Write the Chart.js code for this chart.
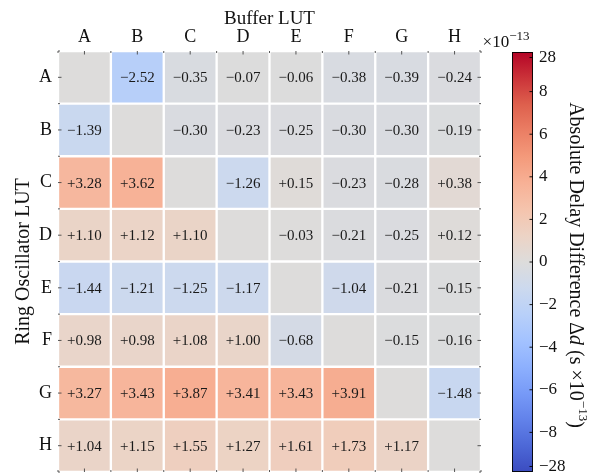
<!DOCTYPE html>
<html>
<head>
<meta charset="utf-8">
<script src="https://cdn.jsdelivr.net/npm/chart.js@4.4.1/dist/chart.umd.min.js"></script>
<style>
  html, body { margin: 0; padding: 0; background: #fff; }
  #wrap { position: relative; width: 597px; height: 475px; }
  #wrap canvas { position: absolute; left: 0; top: 0; }
</style>
</head>
<body>
<div id="wrap">
  <canvas id="heat" width="597" height="475"></canvas>
  <canvas id="cbar" width="597" height="475"></canvas>
</div>
<script>
// Buffer LUT (columns) and ring-oscillator LUT (rows)
const colLabels = ['A', 'B', 'C', 'D', 'E', 'F', 'G', 'H'];
const rowLabels = ['A', 'B', 'C', 'D', 'E', 'F', 'G', 'H'];

// Absolute delay difference per pair, in units of 1e-13 s (null = same LUT)
const rowA = [null, -2.52, -0.35, -0.07, -0.06, -0.38, -0.39, -0.24];
const rowB = [-1.39, null, -0.30, -0.23, -0.25, -0.30, -0.30, -0.19];
const rowC = [3.28, 3.62, null, -1.26, 0.15, -0.23, -0.28, 0.38];
const rowD = [1.10, 1.12, 1.10, null, -0.03, -0.21, -0.25, 0.12];
const rowE = [-1.44, -1.21, -1.25, -1.17, null, -1.04, -0.21, -0.15];
const rowF = [0.98, 0.98, 1.08, 1.00, -0.68, null, -0.15, -0.16];
const rowG = [3.27, 3.43, 3.87, 3.41, 3.43, 3.91, null, -1.48];
const rowH = [1.04, 1.15, 1.55, 1.27, 1.61, 1.73, 1.17, null];
const delays = [rowA, rowB, rowC, rowD, rowE, rowF, rowG, rowH];

// Colour bar ticks (outer ticks carry the extreme labels)
const cbarTickValues = [-9.6, -8, -6, -4, -2, 0, 2, 4, 6, 8, 9.6];
const cbarTickLabels = ['\u221228', '\u22128', '\u22126', '\u22124', '\u22122', '0', '2', '4', '6', '8', '28'];

// Symmetric colour limit
const colourLimit = 9.86;

// Diverging blue-grey-red colour map
const coolwarm = [
  [0.0, 59, 76, 192], [0.0625, 77, 104, 215], [0.125, 98, 130, 234], [0.1875, 119, 154, 247],
  [0.25, 141, 176, 254], [0.3125, 163, 194, 255], [0.375, 184, 208, 249], [0.4375, 204, 217, 238],
  [0.5, 221, 220, 219], [0.5625, 236, 211, 197], [0.625, 245, 196, 173], [0.6875, 247, 177, 150],
  [0.75, 244, 154, 123], [0.8125, 235, 126, 100], [0.875, 222, 96, 77], [0.9375, 203, 51, 57],
  [1.0, 180, 4, 38]
];

function mapColour(t) {
  t = Math.max(0, Math.min(1, t));
  for (let k = 1; k < coolwarm.length; k++) {
    const a = coolwarm[k - 1], b = coolwarm[k];
    if (t <= b[0]) {
      const f = (t - a[0]) / (b[0] - a[0]);
      const c = [1, 2, 3].map(n => Math.round(a[n] + f * (b[n] - a[n])));
      return `rgb(${c[0]},${c[1]},${c[2]})`;
    }
  }
  return 'rgb(180,4,38)';
}
function colourFor(v) {
  if (v === null) return mapColour(0.5);
  return mapColour(0.5 + v / (2 * colourLimit));
}
function fmt(v) {
  return (v >= 0 ? '+' : '\u2212') + Math.abs(v).toFixed(2);
}

const SERIF = '"Liberation Serif", "DejaVu Serif", serif';

// Draw a run of mixed-style text centred on (0,0) in the current transform
function drawRich(ctx, parts) {
  let total = 0;
  parts.forEach(p => { ctx.font = p.font; p.w = ctx.measureText(p.text).width; total += p.w; });
  let x = -total / 2;
  ctx.textBaseline = 'middle';
  ctx.textAlign = 'left';
  parts.forEach(p => { ctx.font = p.font; ctx.fillText(p.text, x, p.dy || 0); x += p.w; });
}

// Value labels in each cell
const cellLabels = {
  id: 'cellLabels',
  afterDatasetsDraw(chart) {
    const ctx = chart.ctx;
    ctx.save();
    ctx.font = '15px ' + SERIF;
    ctx.fillStyle = '#1a1a1a';
    ctx.textAlign = 'center';
    ctx.textBaseline = 'middle';
    chart.data.datasets.forEach((ds, i) => {
      chart.getDatasetMeta(i).data.forEach((el, j) => {
        const v = delays[i][j];
        if (v === null) return;
        ctx.fillText(fmt(v), el.x, (el.y + el.base) / 2 + 1);
      });
    });
    ctx.restore();
  }
};

// Inward major (centre) and minor (edge) ticks on all four sides, plus offset text
const frameTicks = {
  id: 'frameTicks',
  afterDatasetsDraw(chart) {
    const { ctx, chartArea: a, scales: { x, y } } = chart;
    ctx.save();
    ctx.strokeStyle = '#444';
    ctx.lineWidth = 0.9;
    ctx.beginPath();
    for (let i = 0; i < colLabels.length; i++) {
      const px = x.getPixelForValue(i);
      ctx.moveTo(px, a.top); ctx.lineTo(px, a.top + 3.5);
      ctx.moveTo(px, a.bottom); ctx.lineTo(px, a.bottom - 3.5);
    }
    for (let i = 0; i <= colLabels.length; i++) {
      const px = x.getPixelForValue(i - 0.5);
      ctx.moveTo(px, a.top); ctx.lineTo(px, a.top + 2);
      ctx.moveTo(px, a.bottom); ctx.lineTo(px, a.bottom - 2);
    }
    for (let i = 0; i < rowLabels.length; i++) {
      const py = y.getPixelForValue(i + 0.5);
      ctx.moveTo(a.left, py); ctx.lineTo(a.left + 3.5, py);
      ctx.moveTo(a.right, py); ctx.lineTo(a.right - 3.5, py);
    }
    for (let i = 0; i <= rowLabels.length; i++) {
      const py = y.getPixelForValue(i);
      ctx.moveTo(a.left, py); ctx.lineTo(a.left + 2, py);
      ctx.moveTo(a.right, py); ctx.lineTo(a.right - 2, py);
    }
    ctx.stroke();

    // scale factor note beside the grid
    ctx.fillStyle = '#111';
    ctx.translate(a.right + 25, a.top - 8);
    drawRich(ctx, [
      { text: '\u00d710', font: '17px ' + SERIF },
      { text: '\u221213', font: '13px ' + SERIF, dy: -6 }
    ]);
    ctx.restore();
  }
};

const heatDatasets = rowLabels.map((r, i) => ({
  label: r,
  data: colLabels.map(() => [i, i + 1]),
  backgroundColor: delays[i].map(colourFor),
  borderColor: '#ffffff',
  borderWidth: 1.5,
  borderSkipped: false,
  grouped: false,
  barPercentage: 1,
  categoryPercentage: 1
}));

new Chart(document.getElementById('heat'), {
  type: 'bar',
  data: { labels: colLabels, datasets: heatDatasets },
  options: {
    responsive: false,
    animation: false,
    devicePixelRatio: 1,
    layout: { padding: { left: 0, right: 116, top: 0, bottom: 3 } },
    plugins: { legend: { display: false }, tooltip: { enabled: false } },
    scales: {
      x: {
        type: 'category',
        position: 'top',
        offset: true,
        grid: { display: false, drawTicks: false },
        border: { display: false },
        ticks: { font: { family: SERIF, size: 18 }, color: '#111', padding: 3 },
        title: { display: true, text: 'Buffer LUT', font: { family: SERIF, size: 19 }, color: '#111', padding: { top: 8, bottom: 0 } },
        afterFit(scale) { scale.height = 51; scale.paddingLeft = 0; scale.paddingRight = 0; }
      },
      y: {
        type: 'linear',
        position: 'left',
        min: 0,
        max: rowLabels.length,
        reverse: true,
        afterBuildTicks(scale) { scale.ticks = rowLabels.map((l, i) => ({ value: i + 0.5 })); },
        grid: { display: false, drawTicks: false },
        border: { display: false },
        ticks: {
          font: { family: SERIF, size: 18 }, color: '#111', padding: 6,
          callback: (v) => rowLabels[Math.floor(v)]
        },
        title: { display: true, text: 'Ring Oscillator LUT', font: { family: SERIF, size: 20 }, color: '#111', padding: { top: 12, bottom: 0 } },
        afterFit(scale) { scale.width = 58; scale.paddingTop = 0; scale.paddingBottom = 0; }
      }
    }
  },
  plugins: [cellLabels, frameTicks]
});

// Colour bar: one floating bar spanning the colour limits, filled with the map
const cbarDecor = {
  id: 'cbarDecor',
  afterDatasetsDraw(chart) {
    const { ctx, chartArea: a, scales: { y } } = chart;
    ctx.save();
    ctx.strokeStyle = '#000';
    ctx.lineWidth = 0.9;
    ctx.beginPath();
    cbarTickValues.forEach(v => {
      const py = y.getPixelForValue(v);
      ctx.moveTo(a.right, py); ctx.lineTo(a.right - 3.5, py);
    });
    ctx.stroke();
    ctx.strokeRect(a.left + 0.5, a.top + 0.5, a.right - a.left - 1, a.bottom - a.top - 1);

    ctx.fillStyle = '#111';
    ctx.translate(a.right + 42, (a.top + a.bottom) / 2 + 3);
    ctx.rotate(Math.PI / 2);
    drawRich(ctx, [
      { text: 'Absolute Delay Difference \u0394', font: '20px ' + SERIF },
      { text: 'd', font: 'italic 20px ' + SERIF },
      { text: ' (s \u00d710', font: '20px ' + SERIF },
      { text: '\u221213', font: '13px ' + SERIF, dy: -7 },
      { text: ')', font: '20px ' + SERIF }
    ]);
    ctx.restore();
  }
};

new Chart(document.getElementById('cbar'), {
  type: 'bar',
  data: {
    labels: [''],
    datasets: [{
      data: [[-colourLimit, colourLimit]],
      backgroundColor(context) {
        const chart = context.chart;
        const y = chart.scales.y;
        if (!chart.chartArea || !y) return mapColour(0.5);
        const y0 = y.getPixelForValue(-colourLimit), y1 = y.getPixelForValue(colourLimit);
        if (!isFinite(y0) || !isFinite(y1)) return mapColour(0.5);
        const g = chart.ctx.createLinearGradient(0, y0, 0, y1);
        coolwarm.forEach(s => g.addColorStop(s[0], `rgb(${s[1]},${s[2]},${s[3]})`));
        return g;
      },
      borderWidth: 0,
      barPercentage: 1,
      categoryPercentage: 1
    }]
  },
  options: {
    responsive: false,
    animation: false,
    devicePixelRatio: 1,
    layout: { padding: { left: 512, right: 0, top: 52, bottom: 3 } },
    plugins: { legend: { display: false }, tooltip: { enabled: false } },
    scales: {
      x: { display: false },
      y: {
        type: 'linear',
        position: 'right',
        min: -colourLimit,
        max: colourLimit,
        afterBuildTicks(scale) { scale.ticks = cbarTickValues.map(v => ({ value: v })); },
        grid: { display: false, drawTicks: false },
        border: { display: false },
        ticks: {
          font: { family: SERIF, size: 17 }, color: '#111', padding: 6,
          callback: (v) => cbarTickLabels[cbarTickValues.indexOf(v)]
        },
        afterFit(scale) { scale.width = 64; scale.paddingTop = 0; scale.paddingBottom = 0; }
      }
    }
  },
  plugins: [cbarDecor]
});
</script>
</body>
</html>
